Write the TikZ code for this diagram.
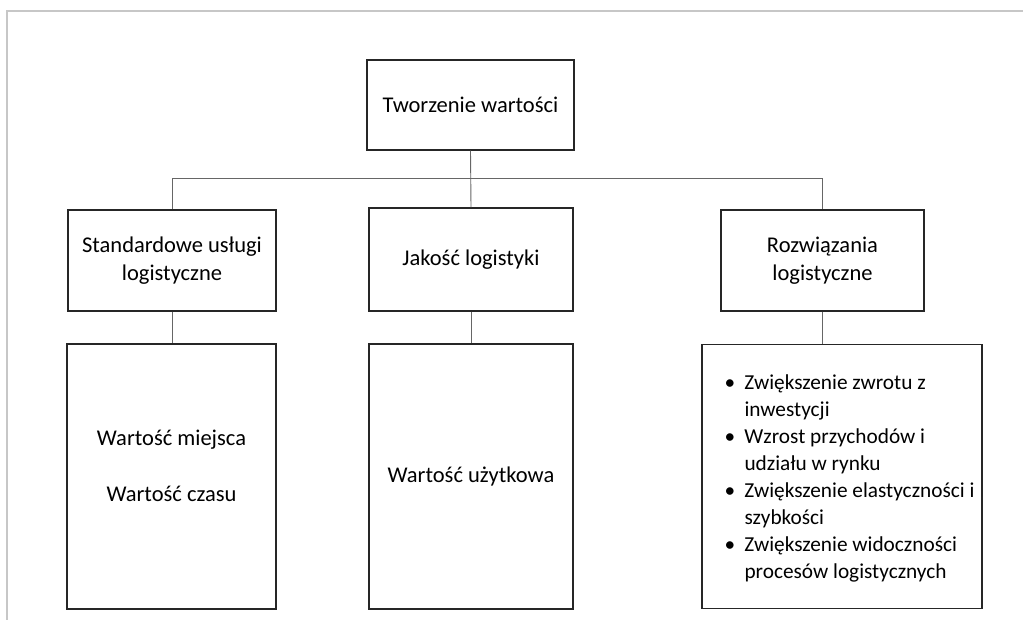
\documentclass[tikz,border=0pt]{standalone}
\usepackage{fontspec}
\setmainfont{Carlito}
\begin{document}
\begin{tikzpicture}[x=1pt,y=-1pt,
  box/.style={draw=black!85, line width=1.4pt, fill=white, align=center,
    inner sep=4pt, font=\fontsize{22.5}{28}\selectfont},
  lbl/.style={inner sep=0pt, align=center, font=\fontsize{22.5}{28}\selectfont},
  link/.style={draw=black!60, line width=0.9pt},
  frame/.style={draw=black!22, line width=1.3pt}]
\useasboundingbox (0,0) rectangle (1023,620);
% page frame
\draw[frame] (7,620) -- (7,11) -- (1023,11);

% top level
\node[box, minimum width=207pt, minimum height=90pt] (top) at (470.5,105) {Tworzenie wartości};

% second level
\node[box, minimum width=208pt, minimum height=101pt] (lm) at (172,260.5) {Standardowe usługi\\logistyczne};
\node[box, minimum width=204pt, minimum height=103pt] (mm) at (471,259.5) {Jakość logistyki};
\node[box, minimum width=203pt, minimum height=101pt] (rm) at (822.5,260.5) {Rozwiązania\\logistyczne};

% third level
\node[box, minimum width=209pt, minimum height=265pt] (lb) at (171.5,476.5) {};
\node[lbl, yshift=11pt] (lbt) at (lb.center) {Wartość miejsca\\[28pt]Wartość czasu};
\node[box, minimum width=204pt, minimum height=265pt] (mb) at (471,476.5) {Wartość użytkowa};
\node[box, minimum width=280pt, minimum height=264pt] (rb) at (842,476.5) {};
\node[anchor=west, inner sep=0pt, align=left, font=\fontsize{21.3}{27}\selectfont, xshift=23pt, yshift=-2pt] (list) at (rb.west) {%
  \makebox[20pt][l]{•}Zwiększenie zwrotu z\\
  \hspace*{20pt}inwestycji\\
  \makebox[20pt][l]{•}Wzrost przychodów i\\
  \hspace*{20pt}udziału w rynku\\
  \makebox[20pt][l]{•}Zwiększenie elastyczności i\\
  \hspace*{20pt}szybkości\\
  \makebox[20pt][l]{•}Zwiększenie widoczności\\
  \hspace*{20pt}procesów logistycznych};

% connectors
\coordinate (bus) at (top.south |- 0,178);
\draw[link] (top.south) -- (mm.north);
\draw[link] (lm.north) -- (lm.north |- bus) -- (rm.north |- bus) -- (rm.north);
\draw[link] (lm.south) -- (lm.south |- lb.north);
\draw[link] (mm.south) -- (mm.south |- mb.north);
\draw[link] (rm.south) -- (rm.south |- rb.north);
\end{tikzpicture}
\end{document}
